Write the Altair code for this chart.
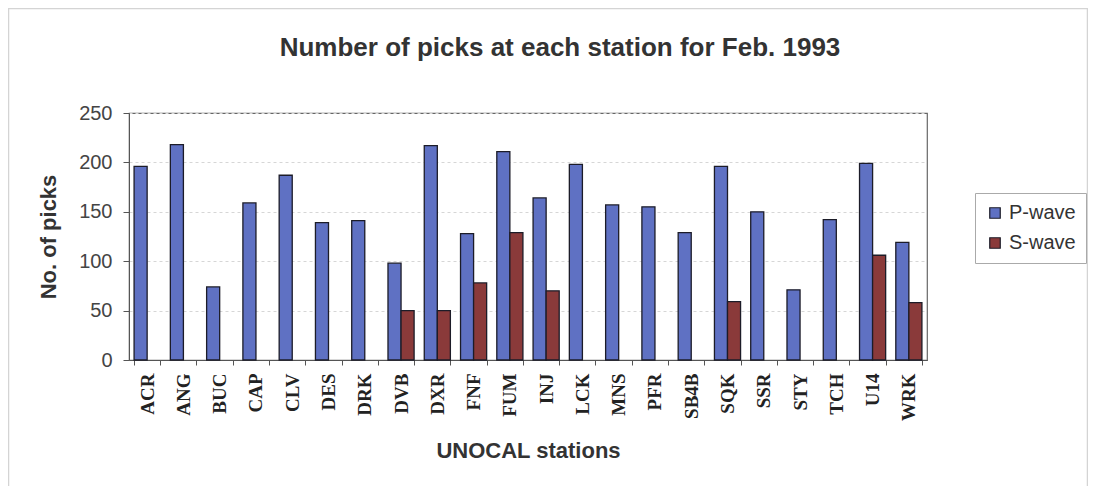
import altair as alt
import pandas as pd

stations = ["ACR", "ANG", "BUC", "CAP", "CLV", "DES", "DRK", "DVB", "DXR", "FNF", "FUM",
            "INJ", "LCK", "MNS", "PFR", "SB4B", "SQK", "SSR", "STY", "TCH", "U14", "WRK"]
p_wave = [196, 218, 74, 159, 187, 139, 141, 98, 217, 128, 211,
          164, 198, 157, 155, 129, 196, 150, 71, 142, 199, 119]
s_wave = [None, None, None, None, None, None, None, 50, 50, 78, 129,
          70, None, None, None, None, 59, None, None, None, 106, 58]
series = ["P-wave", "S-wave"]
colors = ["#5f71c3", "#8a3a3a"]
y_ticks = [0, 50, 100, 150, 200, 250]

rows = []
for st, p, s in zip(stations, p_wave, s_wave):
    rows.append({"station": st, "series": "P-wave", "picks": p})
    if s is not None:
        rows.append({"station": st, "series": "S-wave", "picks": s})
df = pd.DataFrame(rows)

W, H = 798, 247
PL, PT, PR, PB = 121, 105, 161, 126

bars = alt.Chart(df).mark_bar(stroke="#1c1c28", strokeWidth=1.3).encode(
    x=alt.X("station:N", sort=stations,
            scale=alt.Scale(paddingInner=0.28, paddingOuter=0.14),
            axis=alt.Axis(title="UNOCAL stations", labelAngle=-90,
                          labelFont="Liberation Serif", labelFontWeight="bold",
                          labelFontSize=19, labelColor="#222", labelPadding=8,
                          tickBand="extent", ticks=True, tickSize=5, tickColor="#555",
                          domainColor="#555", grid=False,
                          titleFont="Liberation Sans", titleFontSize=22,
                          titleFontWeight="bold", titleColor="#333", titlePadding=20)),
    xOffset=alt.XOffset("series:N", sort=series,
                        scale=alt.Scale(domain=series, paddingInner=0, paddingOuter=0)),
    y=alt.Y("picks:Q", scale=alt.Scale(domain=[0, 250]),
            axis=alt.Axis(values=y_ticks, title="No. of picks",
                          labelFont="Liberation Sans", labelFontSize=20, labelColor="#444",
                          labelPadding=11, tickSize=6, tickColor="#555", domainColor="#555",
                          grid=True, gridColor="#d6d6d6", gridDash=[3, 3],
                          titleFont="Liberation Sans", titleFontSize=22,
                          titleFontWeight="bold", titleColor="#333", titlePadding=18)),
    color=alt.Color("series:N", scale=alt.Scale(domain=series, range=colors),
                    legend=alt.Legend(title=None, orient="none", legendX=846, legendY=80,
                                      strokeColor="#aaa", padding=10, symbolType="square",
                                      symbolSize=110, symbolStrokeColor="#1c1c28",
                                      symbolStrokeWidth=1.2, labelFont="Liberation Sans",
                                      labelFontSize=20, labelColor="#333", rowPadding=10,
                                      labelOffset=4)),
)

frame = alt.Chart(pd.DataFrame({"a": [0]})).mark_rect(
    filled=False, stroke="#d4d4d4", strokeWidth=1.5
).encode(
    x=alt.value(-120.5), x2=alt.value(W + PR - 0.5),
    y=alt.value(-104.5), y2=alt.value(H + PB + 6),
)

chart = alt.layer(frame, bars).properties(
    width=W, height=H,
    autosize=alt.AutoSizeParams(type="none"),
    padding={"left": PL, "top": PT, "right": PR, "bottom": PB},
    title=alt.Title("Number of picks at each station for Feb. 1993",
                    font="Liberation Sans", fontSize=26, fontWeight="bold",
                    color="#333", anchor="middle", frame="group", dx=32,
                    offset=0, dy=53),
).configure_view(stroke="#666", strokeWidth=1.2)

chart.save("out.html", embed_options={"renderer": "svg", "actions": False})
